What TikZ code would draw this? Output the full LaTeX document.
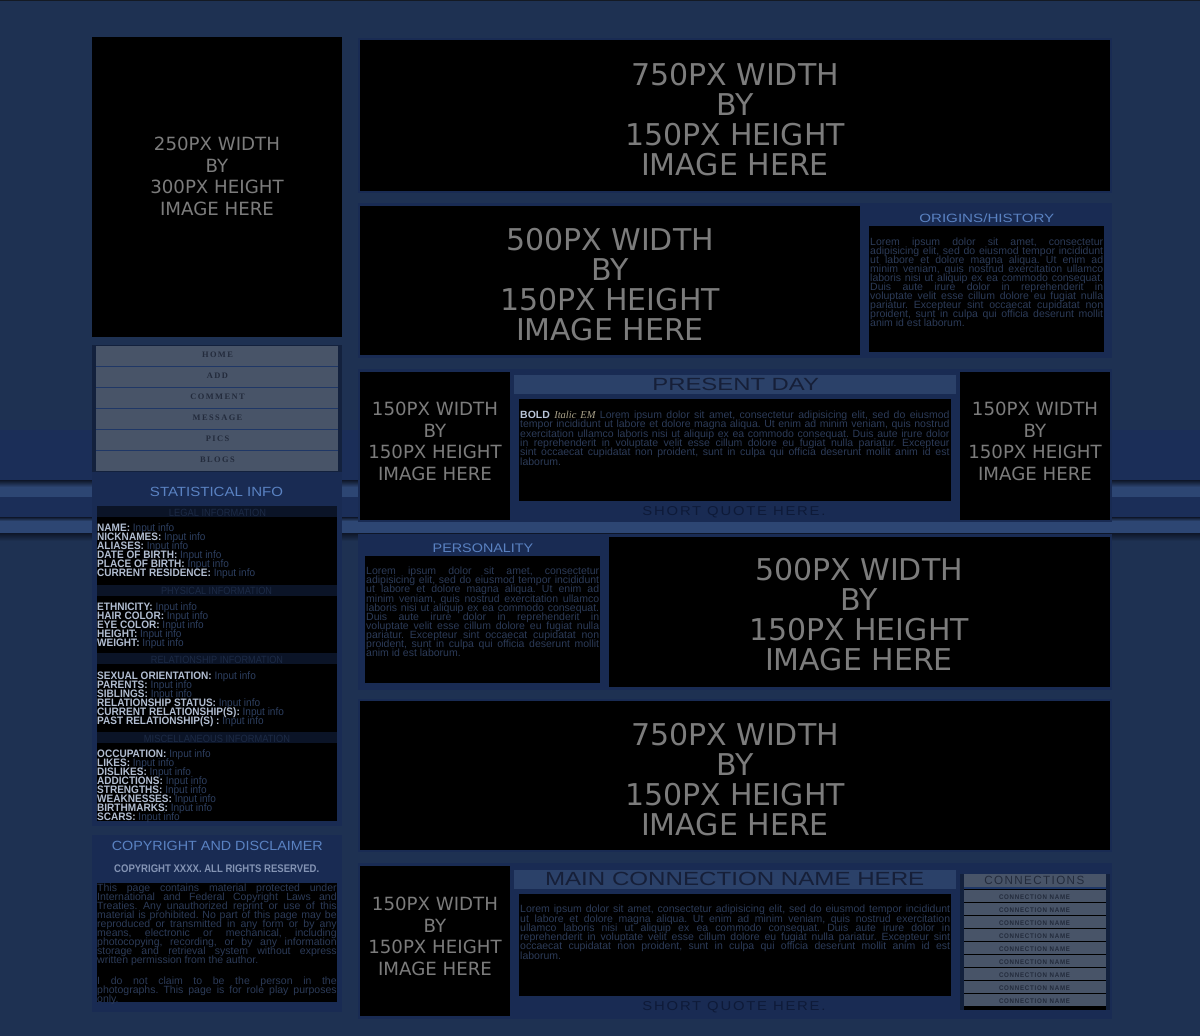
\documentclass[tikz,border=0pt]{standalone}
\usepackage{fontspec}
\usepackage{graphicx}
\setmainfont{Liberation Sans}
\newfontfamily\dvs{DejaVu Sans}
\newfontfamily\lsf{Liberation Sans}
\newfontfamily\navf[LetterSpace=17]{Liberation Serif}
\newfontfamily\cnf[FakeStretch=0.93]{Liberation Sans}
\newfontfamily\serf{Liberation Serif}
\newfontfamily\lsp[LetterSpace=12]{Liberation Sans}

\definecolor{pagebg}{HTML}{1E3152}
\definecolor{bandbg}{HTML}{1B2E58}
\definecolor{stripedark}{HTML}{0E1628}
\definecolor{stripelight}{HTML}{2D4673}
\definecolor{boxbg}{HTML}{192B53}
\definecolor{frame}{HTML}{13213D}
\definecolor{btn}{HTML}{485468}
\definecolor{btnline}{HTML}{1F3766}
\definecolor{btntext}{HTML}{232B3C}
\definecolor{phtext}{HTML}{7C7C7C}
\definecolor{titleblue}{HTML}{5A82C2}
\definecolor{lorem}{HTML}{2C3B58}
\definecolor{subband}{HTML}{0B1427}
\definecolor{subtext}{HTML}{1C2A45}
\definecolor{labelc}{HTML}{B2BED2}
\definecolor{inputc}{HTML}{2D3F60}
\definecolor{bandtitle}{HTML}{2B4169}
\definecolor{bandtext}{HTML}{161F38}
\definecolor{quotec}{HTML}{0E1A38}
\definecolor{boldc}{HTML}{B8C4D8}
\definecolor{italc}{HTML}{ABA38A}
\definecolor{cpsub}{HTML}{8494B4}
\definecolor{topline}{HTML}{141A24}

\newsavebox\jbox
\newcommand\jl[2]{\sbox\jbox{#2}\ifdim\wd\jbox>#1pt\relax\hbox{\resizebox{#1pt}{\ht\jbox}{\usebox\jbox}}\else\hbox to #1pt{#2}\fi}
\newcommand\lastl[1]{\hbox{#1}}
\newcommand\lpara[2]{\vtop{\baselineskip=#1pt\lineskiplimit=-100pt\lineskip=0pt\relax#2}}
\newcommand\fitt[3]{\resizebox{#1pt}{#2pt}{#3}}
\newcommand\fl[1]{\hbox{\textcolor{labelc}{\bfseries #1} \textcolor{inputc}{Input info}}}
\newcommand\loremA{%
\jl{233}{Lorem ipsum dolor sit amet, consectetur}
\jl{233}{adipisicing elit, sed do eiusmod tempor incididunt}
\jl{233}{ut labore et dolore magna aliqua. Ut enim ad}
\jl{233}{minim veniam, quis nostrud exercitation ullamco}
\jl{233}{laboris nisi ut aliquip ex ea commodo consequat.}
\jl{233}{Duis aute irure dolor in reprehenderit in}
\jl{233}{voluptate velit esse cillum dolore eu fugiat nulla}
\jl{233}{pariatur. Excepteur sint occaecat cupidatat non}
\jl{233}{proident, sunt in culpa qui officia deserunt mollit}
\lastl{anim id est laborum.}}

\begin{document}
\frenchspacing
\begin{tikzpicture}[x=1pt,y=-1pt,
  ph/.style={font=\dvs\fontsize{30}{30}\selectfont, text=phtext, align=center, inner sep=0},
  phs/.style={font=\dvs\fontsize{18.2}{21.7}\selectfont, text=phtext, align=center, inner sep=0},
  ttl/.style={anchor=base, inner sep=0, text=titleblue, font=\lsf},
  sub/.style={anchor=base, inner sep=0, text=subtext, font=\lsf},
  lor/.style={anchor=base west, inner sep=0, text=lorem, font=\lsf\fontsize{10.5}{9}\selectfont},
  fld/.style={anchor=base west, inner sep=0, font=\cnf\fontsize{10.8}{9}\selectfont},
  navt/.style={anchor=base, inner sep=0, text=btntext, font=\navf\bfseries\fontsize{8.4}{8}\selectfont},
  bandt/.style={anchor=base, inner sep=0, text=bandtext, font=\lsf},
  quot/.style={anchor=base, inner sep=0, text=quotec, font=\lsp},
  cnt/.style={anchor=base, inner sep=0, text=btntext, font=\lsp}]
\useasboundingbox (0,0) rectangle (1200,1036);
% background
\fill[pagebg] (0,0) rectangle (1200,1036);
\fill[topline] (0,0) rectangle (1200,1.3);
\fill[bandbg] (0,430) rectangle (1200,540);
\shade[top color=stripedark, bottom color=stripelight] (0,480) rectangle (1200,487);
\fill[stripelight] (0,487) rectangle (1200,497);
\shade[top color=stripedark, bottom color=stripelight] (0,517) rectangle (1200,521);
\fill[stripelight] (0,521) rectangle (1200,533);
\shade[top color=stripedark, bottom color=pagebg] (0,533) rectangle (1200,541);

% ---------- left column ----------
\fill[black] (92,37) rectangle (342,337);
\node[phs] (imgA) at (217,176.5) {250PX WIDTH\\BY\\300PX HEIGHT\\IMAGE HERE};

\fill[frame] (92,345) rectangle (342,472);
\fill[btnline] (96,346) rectangle (338,471);
\foreach \t [count=\i from 0] in {HOME,ADD,COMMENT,MESSAGE,PICS,BLOGS} {
  \fill[btn] (96,346+21*\i) rectangle (338,366+21*\i);
  \node[navt] (nav\i) at (217.5,357.7+21*\i) {\t};
}

\fill[boxbg] (92,472) rectangle (342,826);
\node[ttl] (statt) at (216.5,496) {\fitt{133}{9.3}{STATISTICAL INFO}};
\fill[black] (97,506) rectangle (337,821);
\fill[subband] (97,506) rectangle (337,517);
\fill[subband] (97,584.5) rectangle (337,595.5);
\fill[subband] (97,653) rectangle (337,664);
\fill[subband] (97,732) rectangle (337,743);
\node[sub] (s1) at (217.5,516) {\fitt{97}{7.3}{LEGAL INFORMATION}};
\node[sub] (s2) at (216.5,594.3) {\fitt{111}{7.3}{PHYSICAL INFORMATION}};
\node[sub] (s3) at (217,663) {\fitt{132}{7.3}{RELATIONSHIP INFORMATION}};
\node[sub] (s4) at (217,742) {\fitt{146}{7.3}{MISCELLANEOUS INFORMATION}};
\node[fld] (legal) at (97,531.7) {\lpara{9}{\fl{NAME:}\fl{NICKNAMES:}\fl{ALIASES:}\fl{DATE OF BIRTH:}\fl{PLACE OF BIRTH:}\fl{CURRENT RESIDENCE:}}};
\node[fld] (phys) at (97,610.5) {\lpara{9}{\fl{ETHNICITY:}\fl{HAIR COLOR:}\fl{EYE COLOR:}\fl{HEIGHT:}\fl{WEIGHT:}}};
\node[fld] (rel) at (97,679.5) {\lpara{9.06}{\fl{SEXUAL ORIENTATION:}\fl{PARENTS:}\fl{SIBLINGS:}\fl{RELATIONSHIP STATUS:}\fl{CURRENT RELATIONSHIP(S):}\fl{PAST RELATIONSHIP(S) :}}};
\node[fld] (misc) at (97,757.8) {\lpara{8.95}{\fl{OCCUPATION:}\fl{LIKES:}\fl{DISLIKES:}\fl{ADDICTIONS:}\fl{STRENGTHS:}\fl{WEAKNESSES:}\fl{BIRTHMARKS:}\fl{SCARS:}}};

\fill[boxbg] (92,835) rectangle (342,1012);
\node[ttl] (cpt) at (217.3,850) {\fitt{211}{9.3}{COPYRIGHT AND DISCLAIMER}};
\node[anchor=base, inner sep=0, text=cpsub] (cps) at (216.7,872.7) {\fitt{205}{7.7}{\cnf\bfseries COPYRIGHT XXXX. ALL RIGHTS RESERVED.}};
\fill[black] (97,883) rectangle (337,1001.7);
\node[lor] (cptext) at (97,891) {\lpara{9.1}{%
\jl{239.5}{This page contains material protected under}
\jl{239.5}{International and Federal Copyright Laws and}
\jl{239.5}{Treaties. Any unauthorized reprint or use of this}
\jl{239.5}{material is prohibited. No part of this page may be}
\jl{239.5}{reproduced or transmitted in any form or by any}
\jl{239.5}{means, electronic or mechanical, including}
\jl{239.5}{photocopying, recording, or by any information}
\jl{239.5}{storage and retrieval system without express}
\lastl{written permission from the author.}
\hbox{}\vskip2pt
\jl{239.5}{I do not claim to be the person in the}
\jl{239.5}{photographs. This page is for role play purposes}
\lastl{only.}}};

% ---------- right column ----------
% row 1
\fill[boxbg] (358,38) rectangle (1112,193);
\fill[black] (360,40) rectangle (1110,191);
\node[ph] (ban1) at (735,120) {750PX WIDTH\\BY\\150PX HEIGHT\\IMAGE HERE};

% row 2
\fill[boxbg] (358,203) rectangle (1112,358);
\fill[black] (360,206) rectangle (860,355);
\node[ph] (ban2) at (610,285) {500PX WIDTH\\BY\\150PX HEIGHT\\IMAGE HERE};
\node[ttl] (origt) at (986.8,222.7) {\fitt{135}{8.7}{ORIGINS/HISTORY}};
\fill[black] (869,226) rectangle (1104,352);
\node[lor] (origtext) at (870,245.7) {\lpara{9}{\loremA}};

% row 3
\fill[boxbg] (358,369) rectangle (1112,522);
\fill[black] (360,372) rectangle (510,520);
\node[phs] (sq1) at (435,441.5) {150PX WIDTH\\BY\\150PX HEIGHT\\IMAGE HERE};
\fill[black] (960,372) rectangle (1110,520);
\node[phs] (sq2) at (1035,441.5) {150PX WIDTH\\BY\\150PX HEIGHT\\IMAGE HERE};
\fill[bandtitle] (514,375) rectangle (956,394);
\node[bandt] (pdt) at (735.7,390.7) {\fitt{166.7}{12.3}{PRESENT DAY}};
\fill[black] (519,399) rectangle (951,501);
\node[lor] (pdtext) at (520,418.3) {\lpara{9.4}{%
\jl{429.3}{\textcolor{boldc}{\bfseries BOLD} \textcolor{italc}{\serf\itshape Italic EM} Lorem ipsum dolor sit amet, consectetur adipisicing elit, sed do eiusmod}
\jl{429.3}{tempor incididunt ut labore et dolore magna aliqua. Ut enim ad minim veniam, quis nostrud}
\jl{429.3}{exercitation ullamco laboris nisi ut aliquip ex ea commodo consequat. Duis aute irure dolor}
\jl{429.3}{in reprehenderit in voluptate velit esse cillum dolore eu fugiat nulla pariatur. Excepteur}
\jl{429.3}{sint occaecat cupidatat non proident, sunt in culpa qui officia deserunt mollit anim id est}
\lastl{laborum.}}};
\node[quot] (q1) at (734,515.7) {\fitt{183}{9}{SHORT QUOTE HERE.}};

% row 4
\fill[boxbg] (358,534) rectangle (1112,690);
\node[ttl] (perst) at (483,552.7) {\fitt{100.6}{8.7}{PERSONALITY}};
\fill[black] (365,556) rectangle (600,683);
\node[lor] (perstext) at (366,574.7) {\lpara{9.1}{\loremA}};
\fill[black] (609,537) rectangle (1110,687);
\node[ph] (ban3) at (859,615) {500PX WIDTH\\BY\\150PX HEIGHT\\IMAGE HERE};

% row 5
\fill[boxbg] (358,699) rectangle (1112,852);
\fill[black] (360,701) rectangle (1110,850);
\node[ph] (ban4) at (735,780) {750PX WIDTH\\BY\\150PX HEIGHT\\IMAGE HERE};

% row 6
\fill[boxbg] (358,863) rectangle (1112,1019);
\fill[black] (360,866) rectangle (510,1016);
\node[phs] (sq3) at (435,936.5) {150PX WIDTH\\BY\\150PX HEIGHT\\IMAGE HERE};
\fill[bandtitle] (514,870) rectangle (956,889);
\node[bandt] (mct) at (734.7,885.7) {\fitt{379.3}{13.3}{MAIN CONNECTION NAME HERE}};
\fill[black] (519,894) rectangle (951,996);
\node[lor] (mctext) at (520,912.7) {\lpara{9.3}{%
\jl{430}{Lorem ipsum dolor sit amet, consectetur adipisicing elit, sed do eiusmod tempor incididunt}
\jl{430}{ut labore et dolore magna aliqua. Ut enim ad minim veniam, quis nostrud exercitation}
\jl{430}{ullamco laboris nisi ut aliquip ex ea commodo consequat. Duis aute irure dolor in}
\jl{430}{reprehenderit in voluptate velit esse cillum dolore eu fugiat nulla pariatur. Excepteur sint}
\jl{430}{occaecat cupidatat non proident, sunt in culpa qui officia deserunt mollit anim id est}
\lastl{laborum.}}};
\node[quot] (q2) at (734,1010.7) {\fitt{183}{9}{SHORT QUOTE HERE.}};

% connections panel
\fill[frame] (960,874) rectangle (1110,1010);
\fill[black] (964,887) rectangle (1106,1010);
\fill[btn] (964,874) rectangle (1106,887);
\fill[btnline] (964,887) rectangle (1106,889.3);
\node[cnt] (conhead) at (1034.3,884.3) {\fitt{100}{8.3}{CONNECTIONS}};
\foreach \i in {0,...,8} {
  \fill[btn] (964,890+13*\i) rectangle (1106,902.3+13*\i);
  \node[cnt] (con\i) at (1034.5,899+13*\i) {\fitt{71}{4.7}{\bfseries CONNECTION NAME}};
}
\end{tikzpicture}
\end{document}
